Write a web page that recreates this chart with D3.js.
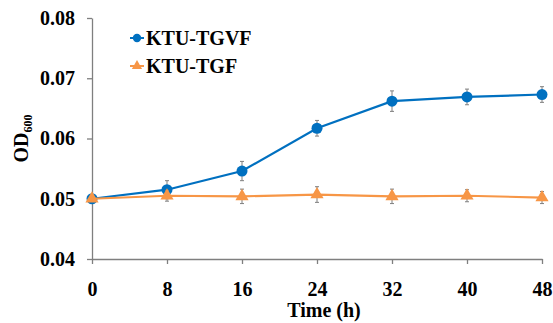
<!DOCTYPE html>
<html>
<head>
<meta charset="utf-8">
<script src="https://cdn.jsdelivr.net/npm/d3@7"></script>
<style>
  html, body { margin: 0; padding: 0; background: #fff; }
</style>
</head>
<body>
<svg id="chart" width="553" height="323"></svg>
<script>
// Culture time points (h)
const hours = [0, 8, 16, 24, 32, 40, 48];
// OD600 means and standard deviations
const tgvfMean = [0.0500, 0.0515, 0.0546, 0.0617, 0.0662, 0.0669, 0.0673];
const tgvfErr  = [0.0002, 0.0015, 0.0016, 0.0013, 0.0017, 0.0013, 0.0013];
const tgfMean  = [0.0500, 0.0505, 0.0504, 0.0507, 0.0504, 0.0505, 0.0502];
const tgfErr   = [0.0002, 0.0009, 0.0012, 0.0013, 0.0012, 0.0010, 0.0010];
const yTicks = [0.04, 0.05, 0.06, 0.07, 0.08];
const seriesNames = ["KTU-TGVF", "KTU-TGF"];

const series = [
  { name: seriesNames[0], mean: tgvfMean, err: tgvfErr, color: "#0070C0", marker: "circle" },
  { name: seriesNames[1], mean: tgfMean,  err: tgfErr,  color: "#F79646", marker: "triangle" }
];

const FONT = "'Liberation Serif', 'Times New Roman', serif";
const FS = "20px";
const styleText = sel => sel
  .style("font-family", FONT)
  .style("font-weight", "bold")
  .style("fill", "#000");

const svg = d3.select("#chart");
const margin = { left: 92, right: 11, top: 18, bottom: 64 };
const W = 553, H = 323;

const x = d3.scaleLinear().domain([0, 48]).range([margin.left, W - margin.right]);
const y = d3.scaleLinear().domain([0.04, 0.08]).range([H - margin.bottom, margin.top]);

const axisColor = "#7f7f7f";

// X axis
const xAxis = svg.append("g")
  .attr("transform", `translate(0,${y(0.04)})`)
  .call(d3.axisBottom(x).tickValues(hours).tickSize(5).tickSizeOuter(0).tickPadding(18).tickFormat(d3.format("d")));
xAxis.select(".domain").attr("stroke", axisColor).attr("stroke-width", 1.3);
xAxis.selectAll(".tick line").attr("stroke", axisColor).attr("stroke-width", 1.3);
xAxis.selectAll("text").style("font-size", FS).call(styleText);

// Y axis
const yAxis = svg.append("g")
  .attr("transform", `translate(${x(0)},0)`)
  .call(d3.axisLeft(y).tickValues(yTicks).tickSize(5).tickSizeOuter(0).tickPadding(12).tickFormat(d3.format(".2f")));
yAxis.select(".domain").attr("stroke", axisColor).attr("stroke-width", 1.3);
yAxis.selectAll(".tick line").attr("stroke", axisColor).attr("stroke-width", 1.3);
yAxis.selectAll("text").style("font-size", FS).call(styleText);

// Axis titles
svg.append("text")
  .attr("x", (x(0) + x(48)) / 2 + 7)
  .attr("y", 317)
  .attr("text-anchor", "middle")
  .style("font-size", FS)
  .call(styleText)
  .text("Time (h)");

const yTitle = svg.append("text")
  .attr("transform", `translate(28,${(y(0.04) + y(0.08)) / 2}) rotate(-90)`)
  .attr("text-anchor", "middle")
  .style("font-size", FS)
  .call(styleText);
yTitle.append("tspan").text("OD");
yTitle.append("tspan").style("font-size", "12px").attr("dy", 4).text("600");

// Series
const line = d3.line().x((d, i) => x(hours[i])).y(d => y(d));
const triangle = d3.symbol().type(d3.symbolTriangle);

series.forEach(s => {
  const g = svg.append("g");
  // error bars
  const eb = g.selectAll(".eb").data(s.mean).enter().append("g").attr("stroke", "#7f7f7f").attr("stroke-width", 1);
  eb.append("line")
    .attr("x1", (d, i) => x(hours[i])).attr("x2", (d, i) => x(hours[i]))
    .attr("y1", (d, i) => y(d + s.err[i])).attr("y2", (d, i) => y(d - s.err[i]));
  eb.append("line")
    .attr("x1", (d, i) => x(hours[i]) - 2).attr("x2", (d, i) => x(hours[i]) + 2)
    .attr("y1", (d, i) => y(d + s.err[i])).attr("y2", (d, i) => y(d + s.err[i]));
  eb.append("line")
    .attr("x1", (d, i) => x(hours[i]) - 2).attr("x2", (d, i) => x(hours[i]) + 2)
    .attr("y1", (d, i) => y(d - s.err[i])).attr("y2", (d, i) => y(d - s.err[i]));
  // line
  g.append("path").datum(s.mean)
    .attr("d", line).attr("fill", "none")
    .attr("stroke", s.color).attr("stroke-width", 2.2);
  // markers
  if (s.marker === "circle") {
    g.selectAll(".m").data(s.mean).enter().append("circle")
      .attr("cx", (d, i) => x(hours[i])).attr("cy", d => y(d))
      .attr("r", 5.5).attr("fill", s.color);
  } else {
    g.selectAll(".m").data(s.mean).enter().append("path")
      .attr("d", triangle.size(75))
      .attr("transform", (d, i) => `translate(${x(hours[i])},${y(d)})`)
      .attr("fill", s.color);
  }
});

// Legend
const legend = svg.append("g");
series.forEach((s, k) => {
  const ly = 38 + k * 28;
  legend.append("line")
    .attr("x1", 130).attr("x2", 144).attr("y1", ly).attr("y2", ly)
    .attr("stroke", s.color).attr("stroke-width", 2);
  if (s.marker === "circle") {
    legend.append("circle").attr("cx", 137).attr("cy", ly).attr("r", 4.2).attr("fill", s.color);
  } else {
    legend.append("path").attr("d", d3.symbol().type(d3.symbolTriangle).size(45)())
      .attr("transform", `translate(137,${ly})`).attr("fill", s.color);
  }
  legend.append("text")
    .attr("x", 146).attr("y", ly + 6.5)
    .style("font-size", FS)
    .call(styleText)
    .text(s.name);
});
</script>
</body>
</html>
